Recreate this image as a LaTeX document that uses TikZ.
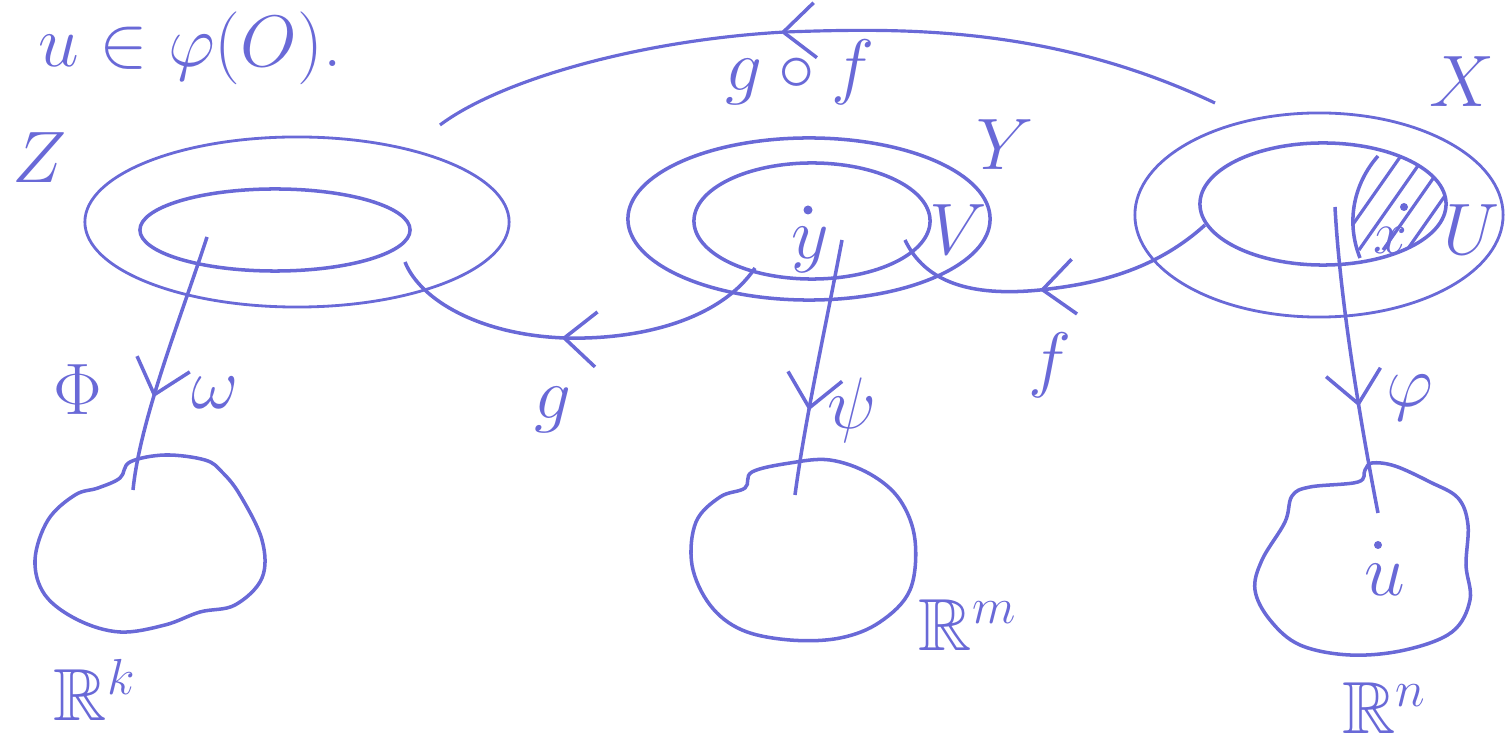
\documentclass[tikz,border=0pt]{standalone}
\usepackage{amssymb}
\usetikzlibrary{shapes.geometric,decorations.markings,arrows.meta}
\definecolor{ink}{RGB}{105,105,215}
\begin{document}
\begin{tikzpicture}[x=0.01cm,y=-0.01cm, line width=1pt, color=ink,
  every node/.style={text=ink, font=\fontsize{21}{25}\selectfont},
  ovalring/.style={ellipse, draw=ink, inner sep=0pt},
  midarr/.style={postaction={decorate}, decoration={markings,
     mark=at position #1 with {\arrow{Straight Barb[length=3.2mm,width=5.5mm,line width=1pt]}}}},
  blob/.style={draw=ink, line width=1pt},
  dotmark/.style={fill=ink}]
\useasboundingbox (0,0) rectangle (1511,743);

% header text
\node[inner sep=1pt] (head) at (190,48) {$u\in\varphi(O)$.};

% ellipses
\node[ovalring, minimum width=4.24cm, minimum height=1.7cm, line width=0.8pt] (Zout) at (297,222) {};
\node[ovalring, minimum width=2.70cm, minimum height=0.82cm] (Zin) at (275,230) {};
\node[ovalring, minimum width=3.62cm, minimum height=1.62cm] (Yout) at (809,219) {};
\node[ovalring, minimum width=2.36cm, minimum height=1.16cm] (Yin) at (812,221) {};
\node[ovalring, minimum width=3.68cm, minimum height=2.04cm, line width=0.8pt] (Xout) at (1319,215) {};
\node[ovalring, minimum width=2.46cm, minimum height=1.22cm] (Xin) at (1323,204) {};

% hatched region in X
\begin{scope}
  \clip (1323,204) ellipse [x radius=1.23cm, y radius=0.61cm];
  \clip (1360,262) .. controls (1345,220) and (1355,180) .. (1382,150) -- (1470,150) -- (1470,270) -- cycle;
  \foreach \s in {0,24,48,72,96} {
    \draw[line width=0.9pt] (1335+\s,250) -- (1405+\s,150);
  }
\end{scope}
\draw (1360,258) .. controls (1345,220) and (1355,182) .. (1378,156);

% blobs
\draw[blob] plot[smooth cycle, tension=0.6] coordinates {
  (130,462) (165,455) (205,460) (222,472) (240,495) (262,540) (262,578) (235,605)
  (200,612) (165,625) (120,632) (78,620) (45,595) (35,560) (48,520) (75,495) (98,488) (120,478)};
\draw[blob] plot[smooth cycle, tension=0.6] coordinates {
  (790,463) (830,460) (870,474) (900,500) (915,540) (910,590) (880,622) (840,638)
  (790,640) (742,630) (710,605) (692,565) (696,522) (720,497) (745,488) (752,472)};
\draw[blob] plot[smooth cycle, tension=0.6] coordinates {
  (1372,463) (1395,466) (1430,482) (1458,498) (1468,525) (1466,565) (1470,600) (1452,632)
  (1405,650) (1350,655) (1300,645) (1270,620) (1255,590) (1262,560) (1285,522)
  (1292,496) (1310,487) (1358,482) (1365,470)};

% named endpoints
\coordinate (w1) at (207,237); \coordinate (w2) at (133,490);
\coordinate (p1) at (842,240); \coordinate (p2) at (795,495);
\coordinate (h1) at (1335,207); \coordinate (h2) at (1378,513);
\coordinate (f1) at (1205,225); \coordinate (f2) at (905,240);
\coordinate (g1) at (755,268); \coordinate (g2) at (405,262);
\coordinate (c1) at (1215,103); \coordinate (c2) at (440,125);

% vertical maps
\draw[midarr=0.64] (w1) .. controls (180,320) and (140,420) .. (w2);
\draw[midarr=0.67] (p1) .. controls (825,330) and (805,420) .. (p2);
\draw[midarr=0.65] (h1) .. controls (1340,300) and (1360,420) .. (h2);

% horizontal maps
\draw[midarr=0.54] (f1) .. controls (1150,275) and (1085,285) .. (1040,290)
                        .. controls (970,297) and (925,282) .. (f2);
\draw[midarr=0.54] (g1) .. controls (720,320) and (640,340) .. (565,338)
                        .. controls (480,335) and (420,300) .. (g2);
\draw[midarr=0.555, line width=0.9pt] (c1) .. controls (1050,25) and (900,28) .. (785,32)
                        .. controls (640,40) and (500,80) .. (c2);

% points
\fill[dotmark] (808,210) circle[radius=0.045cm];
\fill[dotmark] (1404,207) circle[radius=0.04cm];
\fill[dotmark] (1378,545) circle[radius=0.04cm];

% labels
\node (lZ) at (40,158) {$Z$};
\node (lX) at (1462,82) {$X$};
\node (lY) at (1005,145) {$Y$};
\node (lV) at (958,230) {$V$};
\node (lU) at (1472,230) {$U$};
\node (ly) at (810,250) {$y$};
\node[font=\fontsize{16}{18}\selectfont] (lx) at (1390,240) {$x$};
\node (lgf) at (800,72) {$g\circ f$};
\node (lw) at (215,393) {$\omega$};
\node (lPhi) at (78,390) {$\Phi$};
\node (lg) at (553,410) {$g$};
\node (lpsi) at (852,410) {$\psi$};
\node (lf) at (1050,365) {$f$};
\node (lphi) at (1410,398) {$\varphi$};
\node (lu) at (1385,580) {$u$};
\node (lRk) at (95,690) {$\mathbb{R}^k$};
\node (lRm) at (968,625) {$\mathbb{R}^m$};
\node (lRn) at (1385,708) {$\mathbb{R}^n$};
\end{tikzpicture}
\end{document}
